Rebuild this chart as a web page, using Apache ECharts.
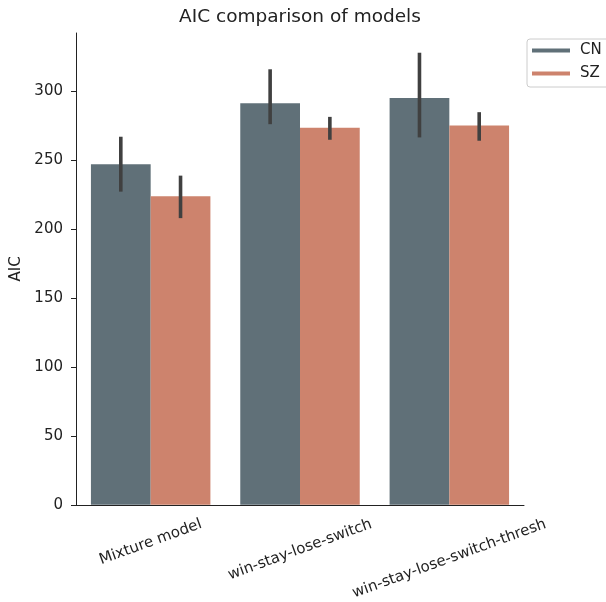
<!DOCTYPE html>
<html><head><meta charset="utf-8">
<script src="https://cdn.jsdelivr.net/npm/echarts@6/dist/echarts.min.js"></script>
<style>html,body{margin:0;padding:0;background:#fff}#c{width:606px;height:602px}</style>
</head><body><div id="c"></div>
<script>
const categories = ['Mixture model', 'win-stay-lose-switch', 'win-stay-lose-switch-thresh'];
const seriesNames = ['CN', 'SZ'];
const cnValues = [246.8, 291.1, 294.9];
const szValues = [223.6, 273.3, 274.9];
const cnLow = [227.0, 275.9, 266.3];
const cnHigh = [266.8, 315.7, 327.7];
const szLow = [207.8, 264.6, 263.9];
const szHigh = [238.6, 281.2, 284.6];
const yTicks = [0, 50, 100, 150, 200, 250, 300];

const FONT = 'DejaVu Sans';
const FS = 15;
const ROT = 20;
const colors = ['#607078', '#cd836d'];

// matplotlib-like centred rotated tick labels: shift each label by half its rotated height
const ctx = document.createElement('canvas').getContext('2d');
ctx.font = FS + 'px "' + FONT + '"';
const rad = ROT * Math.PI / 180;
const rich = {};
categories.forEach((c, i) => {
  const w = ctx.measureText(c).width;
  const D = w * Math.sin(rad) / 2;
  const P = 2 * D * Math.cos(rad), Q = 2 * D * Math.sin(rad);
  rich['l' + i] = { padding: [P, Q, 0, 0], fontSize: FS, fontFamily: FONT, color: '#222' };
});

function errSeries(low, high, idx) {
  return {
    type: 'custom', name: seriesNames[idx] + ' ci', silent: true, z: 10,
    data: low.map((l, i) => [i, l, high[i]]),
    encode: { x: 0, y: [1, 2] },
    renderItem(params, api) {
      const ci = api.value(0);
      const band = api.size([1, 0])[0];
      const off = (idx === 0 ? -1 : 1) * band * 0.2;
      const p1 = api.coord([ci, api.value(1)]);
      const p2 = api.coord([ci, api.value(2)]);
      return { type: 'line', shape: { x1: p1[0] + off, y1: p1[1], x2: p2[0] + off, y2: p2[1] },
        style: { stroke: '#404040', lineWidth: 3.6 } };
    }
  };
}

const chart = echarts.init(document.getElementById('c'), null, { renderer: 'canvas' });
chart.setOption({
  animation: false,
  textStyle: { fontFamily: FONT },
  title: {
    text: 'AIC comparison of models', left: 300, top: 8, padding: 0, textAlign: 'center',
    textStyle: { fontSize: 18.5, fontWeight: 'normal', color: '#222', fontFamily: FONT }
  },
  legend: {
    data: seriesNames, orient: 'vertical', left: 527, top: 39,
    padding: [4, 12, 6, 5], itemGap: 8, icon: 'rect', itemWidth: 38, itemHeight: 4,
    borderColor: '#cccccc', borderWidth: 1, borderRadius: 3, backgroundColor: '#fff',
    textStyle: { fontSize: FS, color: '#222', fontFamily: FONT, padding: [0, 0, 0, 5] }
  },
  grid: { left: 76, right: 82, top: 33, bottom: 95 },
  xAxis: {
    type: 'category', data: categories,
    axisLine: { lineStyle: { color: '#222', width: 1 } },
    axisTick: { alignWithLabel: true, length: 5, lineStyle: { color: '#222' } },
    axisLabel: {
      interval: 0, rotate: ROT, margin: 19, align: 'center', verticalAlign: 'middle',
      fontSize: FS, color: '#222',
      formatter: (v, i) => '{l' + i + '|' + v + '}', rich: rich
    }
  },
  yAxis: {
    type: 'value', min: 0, max: 342, interval: 50,
    name: 'AIC', nameLocation: 'middle', nameGap: 44,
    nameTextStyle: { fontSize: FS, color: '#222', fontFamily: FONT },
    axisLine: { show: true, lineStyle: { color: '#222', width: 1 } },
    axisTick: { show: true, length: 5, lineStyle: { color: '#222' }, customValues: yTicks },
    axisLabel: { fontSize: FS, color: '#222', margin: 13, customValues: yTicks },
    splitLine: { show: false }
  },
  series: [
    { type: 'bar', name: 'CN', data: cnValues, barGap: '0%', barCategoryGap: '20%', itemStyle: { color: colors[0] } },
    { type: 'bar', name: 'SZ', data: szValues, barGap: '0%', barCategoryGap: '20%', itemStyle: { color: colors[1] } },
    errSeries(cnLow, cnHigh, 0),
    errSeries(szLow, szHigh, 1)
  ]
});
</script></body></html>
